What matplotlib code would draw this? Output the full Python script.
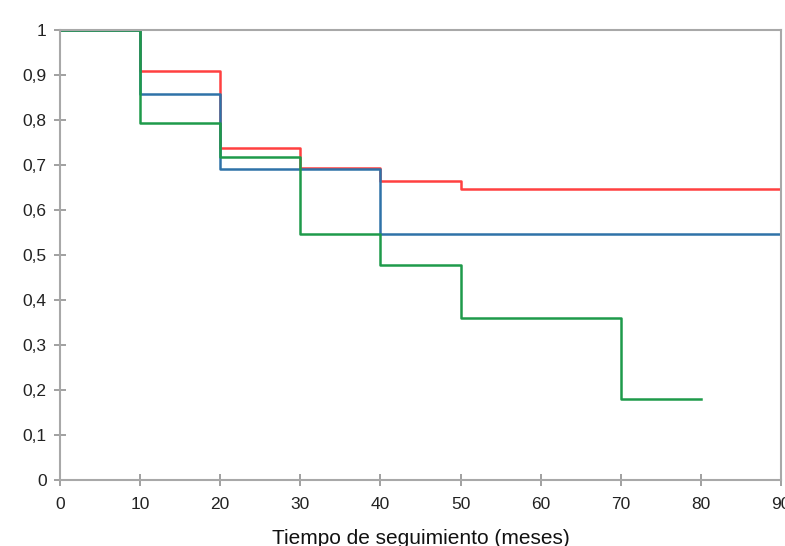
import matplotlib
matplotlib.use("Agg")
import matplotlib.pyplot as plt
from matplotlib.ticker import FuncFormatter

plt.rcParams['font.family'] = ['Liberation Sans', 'DejaVu Sans']

# step curves (post)
t_red = [0, 10, 20, 30, 40, 50, 90]
s_red = [1.0, 0.91, 0.738, 0.694, 0.664, 0.647, 0.647]

t_blue = [0, 10, 20, 40, 90]
s_blue = [1.0, 0.858, 0.691, 0.547, 0.547]

t_green = [0, 10, 20, 30, 40, 50, 70, 80]
s_green = [1.0, 0.794, 0.718, 0.547, 0.477, 0.36, 0.179, 0.179]

xticks = [0, 10, 20, 30, 40, 50, 60, 70, 80, 90]
yticks = [0, 0.1, 0.2, 0.3, 0.4, 0.5, 0.6, 0.7, 0.8, 0.9, 1]

fig = plt.figure(figsize=(7.85, 5.46), dpi=100)
ax = fig.add_axes([0.0764, 0.121, 0.9186, 0.824])

ax.step(t_red, s_red, where="post", color="#ff4040", lw=1.8)
ax.step(t_blue, s_blue, where="post", color="#2f72a8", lw=1.8)
ax.step(t_green, s_green, where="post", color="#1e9a4a", lw=1.8)

ax.set_xlim(0, 90)
ax.set_ylim(0, 1)
ax.set_xticks(xticks)
ax.set_yticks(yticks)
ax.yaxis.set_major_formatter(FuncFormatter(lambda v, p: f"{v:g}".replace(".", ",")))
for s in ax.spines.values():
    s.set_color("#a8a8a8")
    s.set_linewidth(1.5)
ax.tick_params(axis="x", direction="inout", length=9, width=1.2, color="#909090",
               labelsize=12.5, pad=8, labelcolor="#222222")
ax.tick_params(axis="y", direction="inout", length=9, width=1.2, color="#909090",
               labelsize=12.5, pad=5, labelcolor="#222222")
ax.set_xlabel("Tiempo de seguimiento (meses)", fontsize=15, labelpad=12, color="#111111")

fig.savefig("out.png", dpi=100)
